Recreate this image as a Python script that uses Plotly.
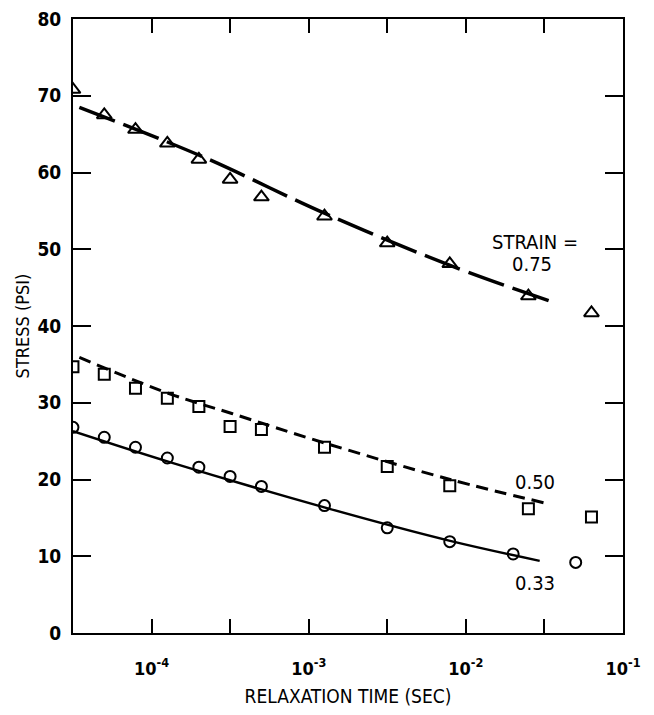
import plotly.graph_objects as go

# ---- data ----
t_tri = [3.16e-5, 5.0e-5, 7.9e-5, 1.26e-4, 2.0e-4, 3.16e-4, 5.0e-4, 1.26e-3, 3.16e-3, 7.9e-3, 2.5e-2, 6.3e-2]
s_tri = [70.8, 67.5, 65.6, 63.8, 61.7, 59.1, 56.8, 54.3, 50.8, 48.1, 43.9, 41.7]

t_sq = [3.16e-5, 5.0e-5, 7.9e-5, 1.26e-4, 2.0e-4, 3.16e-4, 5.0e-4, 1.26e-3, 3.16e-3, 7.9e-3, 2.5e-2, 6.3e-2]
s_sq = [34.7, 33.7, 31.9, 30.6, 29.5, 26.9, 26.5, 24.2, 21.7, 19.2, 16.2, 15.1]

t_circ = [3.16e-5, 5.0e-5, 7.9e-5, 1.26e-4, 2.0e-4, 3.16e-4, 5.0e-4, 1.26e-3, 3.16e-3, 7.9e-3, 2.0e-2, 5.0e-2]
s_circ = [26.8, 25.5, 24.2, 22.8, 21.6, 20.4, 19.1, 16.6, 13.7, 11.9, 10.3, 9.2]

fit75_t = [3.47e-5, 2.09e-4, 1.29e-3, 7.94e-3, 3.47e-2]
fit75_s = [68.5, 62.1, 54.6, 47.9, 43.2]

fit50_t = [3.47e-5, 1.29e-4, 3.24e-4, 1.29e-3, 7.94e-3, 3.24e-2]
fit50_s = [35.9, 31.2, 28.6, 24.7, 20.0, 16.9]

fit33_t = [3.16e-5, 1.29e-4, 1.29e-3, 7.94e-3, 2.95e-2]
fit33_s = [26.3, 22.3, 16.3, 12.0, 9.4]

x_tickvals = [1e-4, 3.162e-4, 1e-3, 3.162e-3, 1e-2, 3.162e-2, 1e-1]
x_ticktext = ["10<sup>-4</sup>", "", "10<sup>-3</sup>", "", "10<sup>-2</sup>", "", "10<sup>-1</sup>"]
y_tickvals = [0, 10, 20, 30, 40, 50, 60, 70, 80]

strain_labels = ["STRAIN =", "0.75", "0.50", "0.33"]
label_x = [-1.56, -1.58, -1.56, -1.56]   # log10 positions
label_y = [51.0, 48.1, 19.7, 6.5]

FONT = "Liberation Sans Narrow, DejaVu Sans Condensed, Arial Narrow, sans-serif"

fig = go.Figure()

fig.add_trace(go.Scatter(x=fit75_t, y=fit75_s, mode="lines", line_shape="spline",
                         line=dict(color="black", width=3.5, dash="38px,9px"), showlegend=False))
fig.add_trace(go.Scatter(x=fit50_t, y=fit50_s, mode="lines", line_shape="spline",
                         line=dict(color="black", width=3, dash="12px,7px"), showlegend=False))
fig.add_trace(go.Scatter(x=fit33_t, y=fit33_s, mode="lines", line_shape="spline",
                         line=dict(color="black", width=2.5), showlegend=False))

fig.add_trace(go.Scatter(x=t_tri, y=s_tri, mode="markers",
                         marker=dict(symbol="triangle-up-open", size=13, color="black", line=dict(width=2)),
                         showlegend=False))
fig.add_trace(go.Scatter(x=t_sq, y=s_sq, mode="markers",
                         marker=dict(symbol="square-open", size=11, color="black", line=dict(width=2)),
                         showlegend=False))
fig.add_trace(go.Scatter(x=t_circ, y=s_circ, mode="markers",
                         marker=dict(symbol="circle-open", size=11, color="black", line=dict(width=2)),
                         showlegend=False))

for txt, lx, ly in zip(strain_labels, label_x, label_y):
    fig.add_annotation(x=lx, y=ly, xref="x", yref="y", text=txt, showarrow=False,
                       font=dict(family=FONT, size=20, color="black"))

# page body has an 8px default margin, so the figure is sized to fit inside it
fig.update_layout(
    width=638, height=699,
    margin=dict(l=65, r=23, t=11, b=74, autoexpand=False),
    paper_bgcolor="white", plot_bgcolor="white",
    font=dict(family=FONT, color="black"),
)
fig.update_xaxes(
    type="log", range=[-4.5, -1], automargin=False, ticklabeloverflow="allow",
    tickmode="array", tickvals=x_tickvals, ticktext=x_ticktext,
    ticks="inside", ticklen=14, tickwidth=2, tickcolor="black",
    showline=True, linecolor="black", linewidth=2, mirror="ticks",
    showgrid=False, zeroline=False,
    tickfont=dict(family=FONT, size=18, color="black", weight="bold"),
    ticklabelstandoff=18,
    title=dict(text="RELAXATION TIME (SEC)", font=dict(family=FONT, size=19, color="black"), standoff=14),
)
fig.update_yaxes(
    range=[0, 80], automargin=False, ticklabeloverflow="allow",
    tickmode="array", tickvals=y_tickvals,
    ticks="inside", ticklen=18, tickwidth=2, tickcolor="black",
    showline=True, linecolor="black", linewidth=2, mirror="ticks",
    showgrid=False, zeroline=False,
    tickfont=dict(family=FONT, size=19, color="black", weight="bold"),
    ticklabelstandoff=6,
    title=dict(text="STRESS (PSI)", font=dict(family=FONT, size=18, color="black"), standoff=3),
)

fig.write_html("out.html")
